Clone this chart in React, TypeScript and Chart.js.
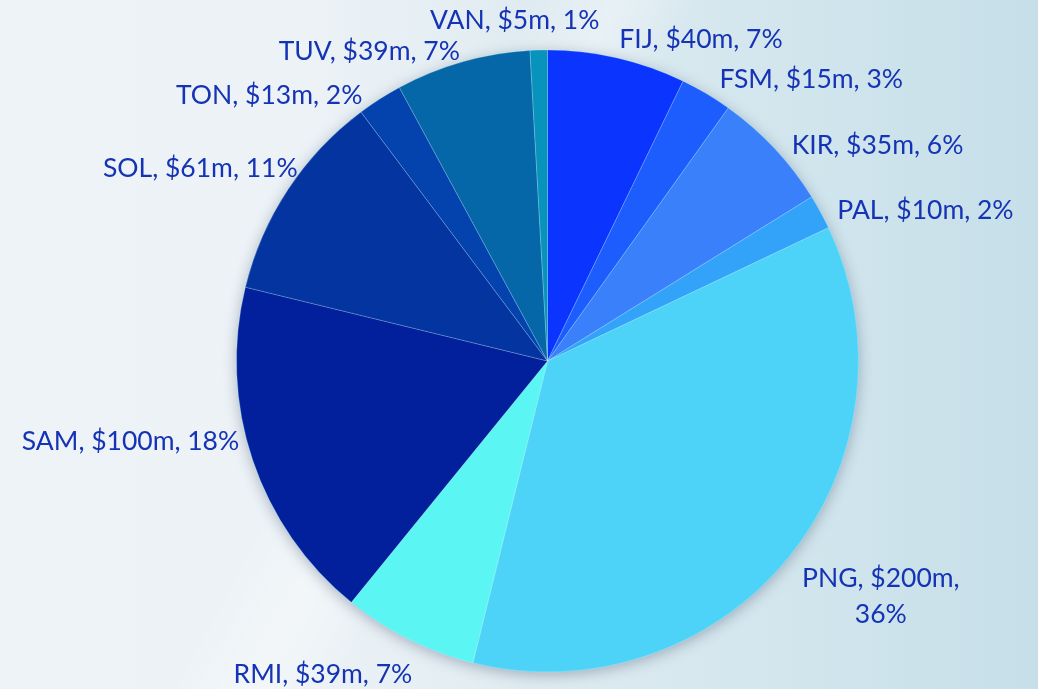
import React, { useEffect, useRef } from "react";
import { Chart, registerables } from "chart.js";

Chart.register(...registerables);

// ---- data ----
const categories = ["FIJ", "FSM", "KIR", "PAL", "PNG", "RMI", "SAM", "SOL", "TON", "TUV", "VAN"];
const amounts = [40, 15, 35, 10, 200, 39, 100, 61, 13, 39, 5];
const sliceColors = [
  "#0b35fe", "#1d5cfd", "#3a80fa", "#33a3fa", "#4dd3f7", "#5bf6f3",
  "#021f9c", "#0434a0", "#0443ad", "#0566a8", "#0893bd",
];
const wrappedLabels = ["PNG"];
// small label nudges (px) relative to the outside-end anchor of each slice
const labelNudges = [
  [0, 2], [8, 5], [10, 15], [8, 14], [6, 1], [8, 13],
  [-4, -35], [18, -5], [-12, 16], [0, 10], [61, -9],
];

const total = amounts.reduce((a, b) => a + b, 0);
const percents = amounts.map((v) => Math.round((v / total) * 100));

const FONT_SIZE = 26.5;
const FONT = `${FONT_SIZE}px Lato, "Open Sans", sans-serif`;
const TEXT_COLOR = "#1533b5";

const shadowPlugin = {
  id: "pieShadow",
  beforeDatasetsDraw(chart: any) {
    const meta = chart.getDatasetMeta(0);
    if (!meta.data.length) return;
    const { x, y, outerRadius } = meta.data[0].getProps(["x", "y", "outerRadius"], true);
    const ctx = chart.ctx;
    ctx.save();
    ctx.shadowColor = "rgba(40,60,90,0.35)";
    ctx.shadowBlur = 14;
    ctx.shadowOffsetY = 3;
    ctx.beginPath();
    ctx.arc(x, y, outerRadius, 0, Math.PI * 2);
    ctx.fillStyle = sliceColors[4];
    ctx.fill();
    ctx.restore();
  },
};

const labelPlugin = {
  id: "outsideLabels",
  afterDatasetsDraw(chart: any) {
    const ctx = chart.ctx;
    const meta = chart.getDatasetMeta(0);
    ctx.save();
    ctx.font = FONT;
    ctx.fillStyle = TEXT_COLOR;
    ctx.textAlign = "left";
    ctx.textBaseline = "alphabetic";
    const capH = FONT_SIZE * 0.72;
    const lineH = 36;
    meta.data.forEach((arc: any, i: number) => {
      const { x, y, startAngle, endAngle, outerRadius } = arc.getProps(
        ["x", "y", "startAngle", "endAngle", "outerRadius"],
        true
      );
      const mid = (startAngle + endAngle) / 2;
      const ux = Math.cos(mid);
      const uy = Math.sin(mid);
      const R = outerRadius + 10;
      const px = x + ux * R;
      const py = y + uy * R;
      const name = categories[i];
      const valTxt = `$${amounts[i]}m`;
      const pctTxt = `${percents[i]}%`;
      const lines = wrappedLabels.includes(name)
        ? [`${name}, ${valTxt},`, pctTxt]
        : [`${name}, ${valTxt}, ${pctTxt}`];
      const widths = lines.map((l) => ctx.measureText(l).width);
      const w = Math.max(...widths);
      let left = ux >= 0 ? px : px - w;
      let cc = uy >= 0 ? py + 12 : py - 12 - (lines.length - 1) * lineH;
      left += labelNudges[i][0];
      cc += labelNudges[i][1];
      lines.forEach((l, k) => {
        const lx = left + (w - widths[k]) / 2;
        ctx.fillText(l, lx, cc + k * lineH + capH / 2);
      });
    });
    ctx.restore();
  },
};

export default function App() {
  const canvasRef = useRef<HTMLCanvasElement | null>(null);

  useEffect(() => {
    document.body.style.margin = "0";
    document.body.style.overflow = "hidden";
    const canvas = canvasRef.current;
    if (!canvas) return;
    const chart = new Chart(canvas, {
      type: "pie",
      data: {
        labels: categories,
        datasets: [
          {
            data: amounts,
            backgroundColor: sliceColors,
            borderColor: "rgba(255,255,255,0.22)",
            borderWidth: 1,
            radius: 311,
          } as any,
        ],
      },
      options: {
        animation: false,
        responsive: false,
        devicePixelRatio: 1,
        layout: { padding: { left: 57, top: 33, right: 0, bottom: 0 } },
        plugins: {
          legend: { display: false },
          tooltip: { enabled: false },
        },
      },
      plugins: [shadowPlugin, labelPlugin],
    });
    return () => chart.destroy();
  }, []);

  return (
    <div
      style={{
        width: 1038,
        height: 689,
        position: "relative",
        overflow: "hidden",
        background:
          "linear-gradient(118deg, rgba(255,255,255,0) 38%, rgba(255,255,255,0.35) 44%, rgba(255,255,255,0) 50%), linear-gradient(90deg, #eef3f7 0%, #ecf2f6 30%, #dfebf1 52%, #d1e5ed 78%, #c6dfe9 100%)",
      }}
    >
      <canvas ref={canvasRef} width={1038} height={689} style={{ display: "block" }} />
    </div>
  );
}
